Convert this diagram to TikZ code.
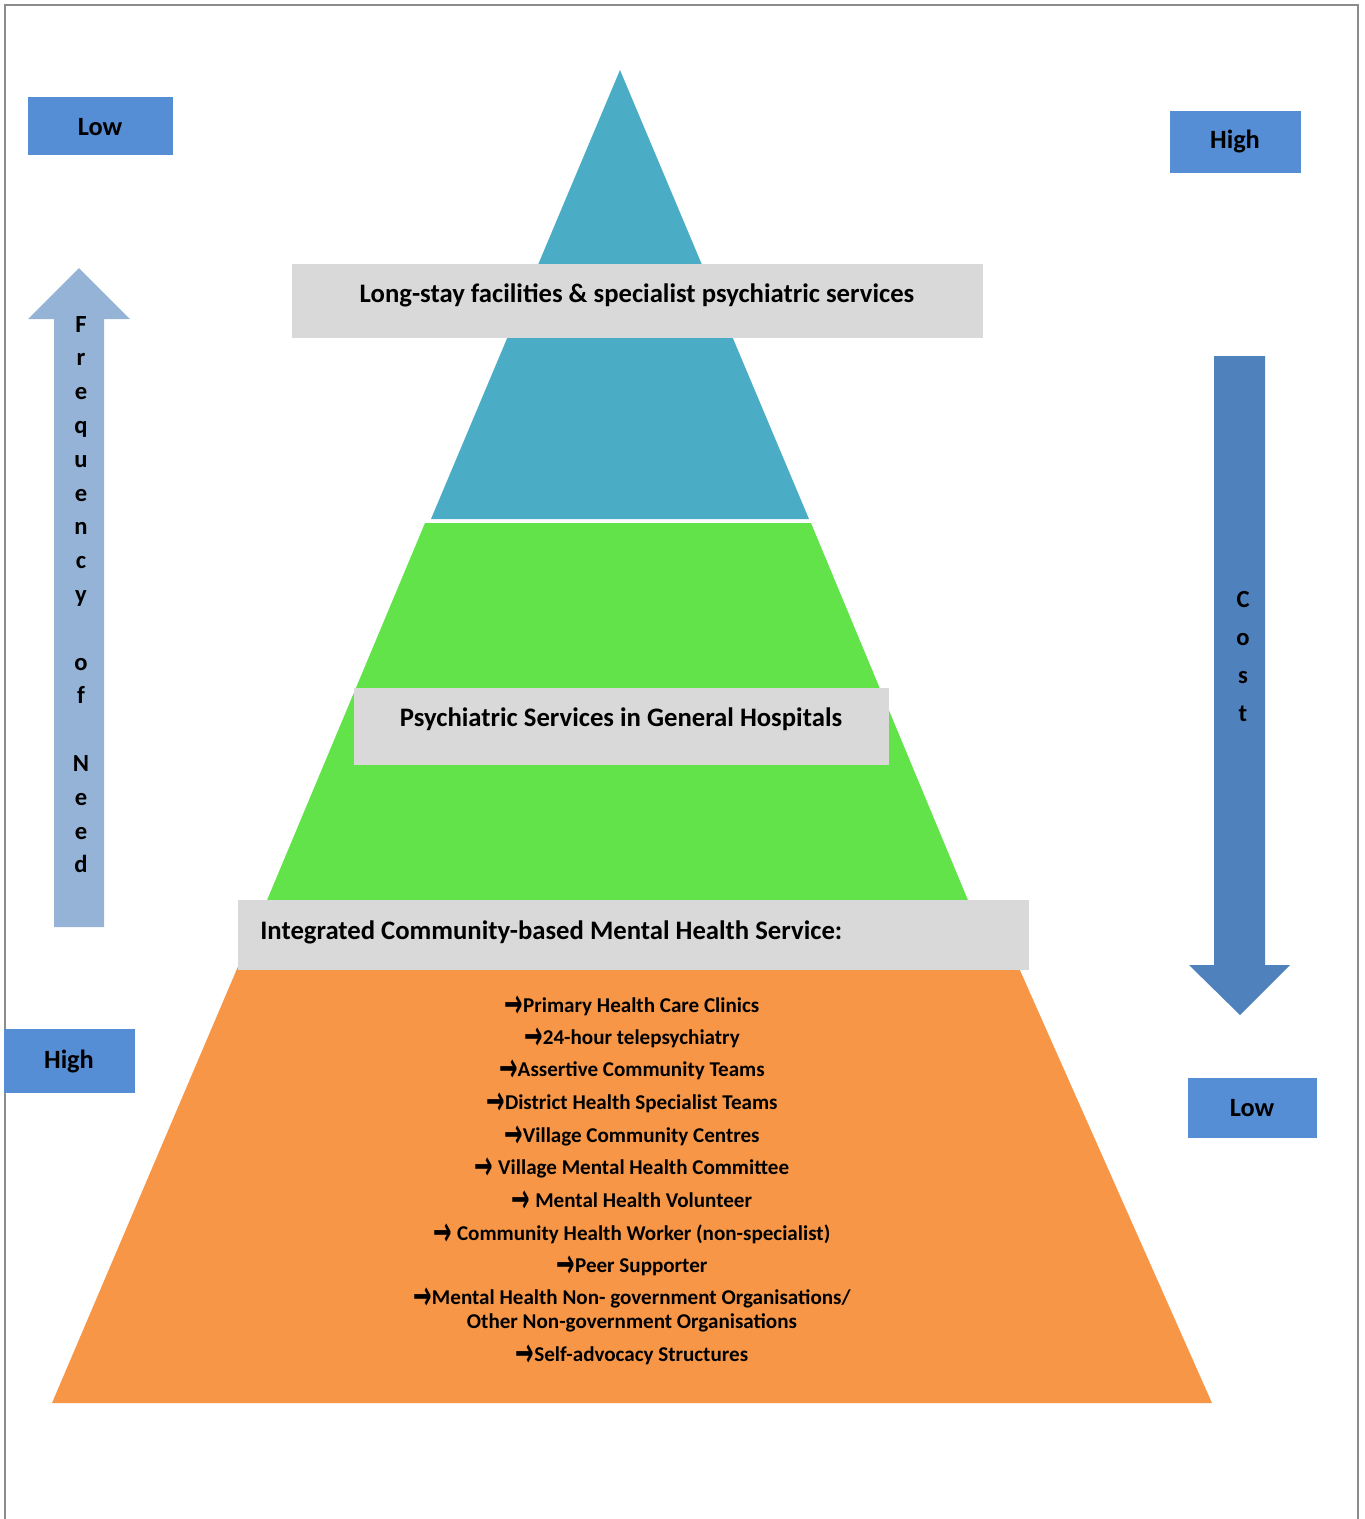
\documentclass[tikz,border=0pt]{standalone}
\usepackage{fontspec}
\setmainfont{Carlito}
\newfontfamily\arrowfont{DejaVu Sans}
\usetikzlibrary{positioning}

\definecolor{tipblue}{HTML}{4BACC6}
\definecolor{midgreen}{HTML}{62E349}
\definecolor{baseorange}{HTML}{F79646}
\definecolor{bandgray}{HTML}{D9D9D9}
\definecolor{tagblue}{HTML}{558ED5}
\definecolor{needblue}{HTML}{95B3D7}
\definecolor{costblue}{HTML}{4F81BD}
\definecolor{framegray}{HTML}{8C8C8C}

\newcommand{\ra}{{\arrowfont\bfseries\raisebox{-0.24em}{\scalebox{1.05}[1.9]{\char"2192}}}}

\begin{document}
\begin{tikzpicture}[
    x=0.02cm, y=-0.02cm,
    font=\bfseries,
    % Node styles
    heading/.style={anchor=base, font=\bfseries\fontsize{15.2}{18}\selectfont, inner sep=0pt},
    item/.style={anchor=base, font=\bfseries\fontsize{12}{14}\selectfont, inner sep=0pt},
    tag/.style={anchor=base, font=\bfseries\fontsize{15}{18}\selectfont, inner sep=0pt},
    letter/.style={anchor=base, font=\bfseries\fontsize{14}{17}\selectfont, inner sep=0pt},
]

    \useasboundingbox (0,0) rectangle (1365,1519);

    % Frame
    \draw[framegray, line width=1.2pt] (5,1525) -- (5,5) -- (1358,5) -- (1358,1525);

    % Pyramid tiers
    \fill[tipblue] (620,70) -- (809,519) -- (431,519) -- cycle;
    \fill[midgreen] (425,523) -- (811,523) -- (970,905) -- (265,905) -- cycle;
    \fill[baseorange] (245,950) -- (1011,950) -- (1212,1403) -- (52,1403) -- cycle;

    % Grey bands
    \fill[bandgray] (292,264) rectangle (983,338);
    \fill[bandgray] (354,688) rectangle (889,765);
    \fill[bandgray] (238,900) rectangle (1029,970);

    \node[heading] (longstay) at (637,302) {Long-stay facilities \& specialist psychiatric services};
    \node[heading] (general) at (621,726) {Psychiatric Services in General Hospitals};
    \node[heading, anchor=base west] (community) at (260,939) {Integrated Community-based Mental Health Service:};

    % Community services
    \foreach \y/\txt in {
        1012/{\ra Primary Health Care Clinics},
        1044/{\ra 24-hour telepsychiatry},
        1076/{\ra Assertive Community Teams},
        1109/{\ra District Health Specialist Teams},
        1142/{\ra Village Community Centres},
        1174/{\ra\ Village Mental Health Committee},
        1207/{\ra\ Mental Health Volunteer},
        1240/{\ra\ Community Health Worker (non-specialist)},
        1272/{\ra Peer Supporter},
        1304/{\ra Mental Health Non- government Organisations/},
        1328/{Other Non-government Organisations},
        1361/{\ra Self-advocacy Structures}}
        \node[item] (svc-\y) at (632,\y) {\txt};

    % Frequency of need arrow
    \fill[needblue] (54,927) -- (54,319) -- (28,319) -- (79,268) -- (130,319)
        -- (104,319) -- (104,927) -- cycle;
    \foreach \ch/\i in {F/0,r/1,e/2,q/3,u/4,e/5,n/6,c/7,y/8,o/10,f/11,N/13,e/14,e/15,d/16}
        \node[letter] (need-\i) at (81,332+33.8*\i) {\ch};

    % Cost arrow
    \fill[costblue] (1214,356) -- (1265,356) -- (1265,965) -- (1290,965) -- (1240,1015)
        -- (1189,965) -- (1214,965) -- cycle;
    \foreach \ch/\i in {C/0,o/1,s/2,t/3}
        \node[letter] (cost-\i) at (1243,607+38*\i) {\ch};

    % Low / High tags
    \fill[tagblue] (28,97) rectangle (173,155);
    \fill[tagblue] (1170,111) rectangle (1301,173);
    \fill[tagblue] (4,1029) rectangle (135,1093);
    \fill[tagblue] (1188,1078) rectangle (1317,1138);
    \node[tag] (needlow) at (100,135) {Low};
    \node[tag] (costhigh) at (1235,148) {High};
    \node[tag] (needhigh) at (69,1068) {High};
    \node[tag] (costlow) at (1252,1116) {Low};

\end{tikzpicture}
\end{document}
